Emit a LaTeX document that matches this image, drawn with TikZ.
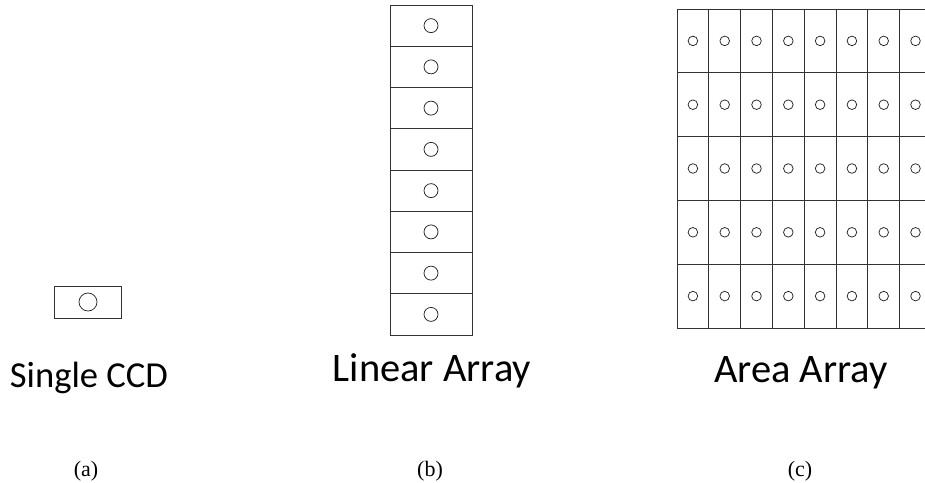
\documentclass[tikz,border=0pt]{standalone}
\usepackage{fontspec}
\setmainfont{Liberation Serif}
\newfontfamily\labelfont{Carlito}
\begin{document}
\begin{tikzpicture}[x=1pt,y=-1pt,
  cellline/.style={draw=black!80, line width=1pt},
  pixel/.style={draw=black!85, line width=0.75pt},
  title/.style={font=\labelfont\fontsize{40.5}{44}\selectfont, anchor=base, inner sep=0pt},
  caption/.style={font=\fontsize{22}{24}\selectfont, anchor=base, inner sep=0pt}]
  \useasboundingbox (0,0) rectangle (925,482);

  % (a) single CCD element
  \draw[cellline] (54,286) rectangle (121,318);
  \draw[pixel] (88,302) circle (9);

  % (b) linear array: 8 stacked elements
  \foreach \r in {0,...,7}{
    \draw[cellline] (390,{5+41.25*\r}) rectangle (472,{5+41.25*(\r+1)});
    \draw[pixel] (431,{5+41.25*(\r+0.5)}) circle (7);
  }

  % (c) area array: 5 rows x 8 columns, running off the right edge
  \begin{scope}
    \clip (0,0) rectangle (925,482);
    \foreach \r in {0,...,4}{
      \foreach \c in {0,...,7}{
        \draw[cellline] ({677+31.8*\c},{9+63.8*\r}) rectangle ({677+31.8*(\c+1)},{9+63.8*(\r+1)});
        \draw[pixel] ({677+31.8*(\c+0.5)},{9+63.8*(\r+0.5)}) circle (4.8);
      }
    }
  \end{scope}

  % titles
  \node[title, font=\labelfont\fontsize{36.6}{40}\selectfont] (ta) at (89,387) {Single CCD};
  \node[title] (tb) at (432,381) {Linear Array};
  \node[title] (tc) at (801,382) {Area Array};

  % captions
  \node[caption] (ca) at (86,476) {(a)};
  \node[caption] (cb) at (430,476) {(b)};
  \node[caption] (cc) at (800,476) {(c)};
\end{tikzpicture}
\end{document}
